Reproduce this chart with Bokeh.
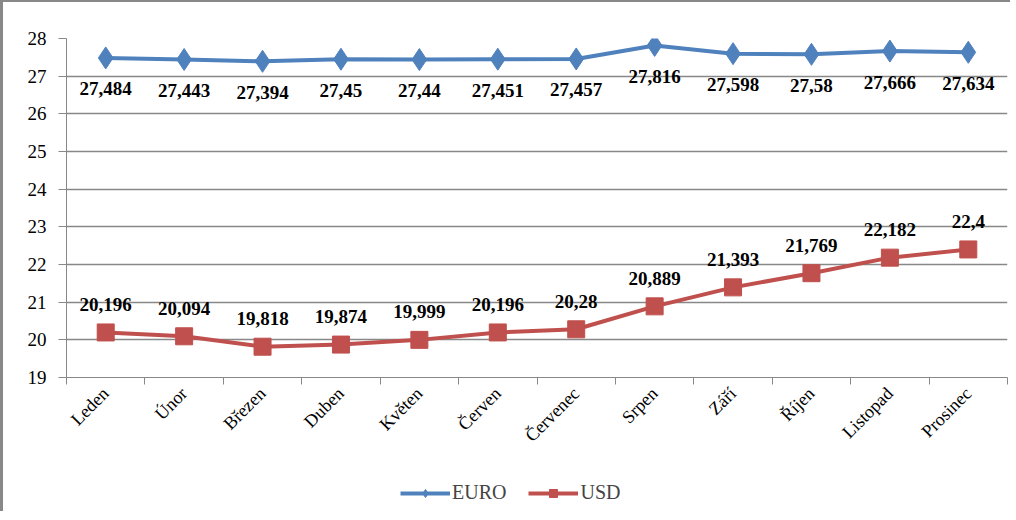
import math
from bokeh.plotting import figure
from bokeh.layouts import column
from bokeh.models import (ColumnDataSource, FixedTicker, Range1d, Legend, LegendItem,
                          LabelSet)
from bokeh.embed import file_html
from bokeh.resources import INLINE

months = ["Leden", "Únor", "Březen", "Duben", "Květen", "Červen", "Červenec",
          "Srpen", "Září", "Říjen", "Listopad", "Prosinec"]
euro = [27.484, 27.443, 27.394, 27.45, 27.44, 27.451, 27.457, 27.816, 27.598, 27.58, 27.666, 27.634]
usd = [20.196, 20.094, 19.818, 19.874, 19.999, 20.196, 20.28, 20.889, 21.393, 21.769, 22.182, 22.4]
y_ticks = [19, 20, 21, 22, 23, 24, 25, 26, 27, 28]

xs = [i + 0.5 for i in range(len(months))]
src_e = ColumnDataSource(dict(x=xs, y=euro, lab=[str(v).replace(".", ",") for v in euro]))
src_u = ColumnDataSource(dict(x=xs, y=usd, lab=[str(v).replace(".", ",") for v in usd]))

FONT = "Liberation Serif"
LFONT = "Times"
BLUE = "#4F81BD"
RED = "#C0504D"

p = figure(width=1010, height=471, output_backend="svg", toolbar_location=None,
           x_range=Range1d(0, 12), y_range=Range1d(19, 28),
           min_border_left=63, min_border_top=36, min_border_right=6, min_border_bottom=96,
           styles={"border-left": "3px solid #888888", "border-top": "2px solid #888888"})
p.outline_line_color = None
p.background_fill_color = "white"

# axes
p.xaxis.ticker = FixedTicker(ticks=xs, minor_ticks=list(range(13)))
p.xaxis.major_label_overrides = {x: m for x, m in zip(xs, months)}
p.xaxis.major_tick_out = 0
p.xaxis.major_tick_in = 0
p.xaxis.minor_tick_out = 7
p.xaxis.minor_tick_in = 0
p.xaxis.minor_tick_line_color = "#888888"
p.xaxis.axis_line_color = "#888888"
p.xaxis.major_label_orientation = math.pi / 4
p.xaxis.major_label_text_font = FONT
p.xaxis.major_label_text_font_size = "18px"
p.xaxis.major_label_text_color = "black"
p.xaxis.major_label_standoff = 6

p.yaxis.ticker = FixedTicker(ticks=y_ticks, minor_ticks=[])
p.yaxis.axis_line_color = "#888888"
p.yaxis.major_tick_line_color = "#888888"
p.yaxis.major_tick_out = 8
p.yaxis.major_tick_in = 0
p.yaxis.major_label_text_font = FONT
p.yaxis.major_label_text_font_size = "19px"
p.yaxis.major_label_text_color = "black"
p.yaxis.major_label_standoff = 12

p.xgrid.grid_line_color = None
p.ygrid.ticker = FixedTicker(ticks=y_ticks)
p.ygrid.grid_line_color = "#888888"
p.ygrid.grid_line_width = 1.5

# series
p.line("x", "y", source=src_e, line_color=BLUE, line_width=4)
p.scatter("x", "y", source=src_e, marker="diamond", size=22, fill_color=BLUE, line_color=BLUE)
p.line("x", "y", source=src_u, line_color=RED, line_width=4)
p.scatter("x", "y", source=src_u, marker="square", size=17, fill_color=RED, line_color=RED)

p.add_layout(LabelSet(x="x", y="y", text="lab", source=src_e, text_align="center",
                      text_baseline="middle", y_offset=-31, text_font=LFONT,
                      text_font_size="19px", text_font_style="bold", text_color="black"))
p.add_layout(LabelSet(x="x", y="y", text="lab", source=src_u, text_align="center",
                      text_baseline="middle", y_offset=28, text_font=LFONT,
                      text_font_size="19px", text_font_style="bold", text_color="black"))

# legend in its own strip below the chart
q = figure(width=1010, height=40, output_backend="svg", toolbar_location=None,
           x_range=Range1d(100, 101), y_range=Range1d(100, 101),
           min_border_left=0, min_border_right=0, min_border_top=0, min_border_bottom=0,
           styles={"border-left": "3px solid #888888"})
q.axis.visible = False
q.grid.visible = False
q.outline_line_color = None
le = q.line("x", "y", source=src_e, line_color=BLUE, line_width=4)
me = q.scatter("x", "y", source=src_e, marker="diamond", size=15, fill_color=BLUE, line_color=BLUE)
lu = q.line("x", "y", source=src_u, line_color=RED, line_width=4)
mu = q.scatter("x", "y", source=src_u, marker="square", size=13, fill_color=RED, line_color=RED)

legend = Legend(items=[LegendItem(label="EURO", renderers=[le, me]),
                       LegendItem(label="USD", renderers=[lu, mu])],
                location=(334, 7), orientation="horizontal",
                label_text_font=LFONT, label_text_font_size="20px",
                glyph_width=50, glyph_height=20, spacing=22, label_standoff=2,
                margin=0, padding=0,
                border_line_color=None, background_fill_alpha=0)
q.add_layout(legend, "center")

open("out.html", "w").write(file_html(column(p, q, spacing=0), INLINE))
